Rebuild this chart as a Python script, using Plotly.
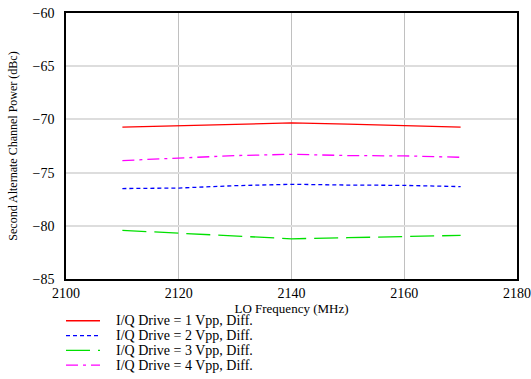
import plotly.graph_objects as go

freq = [2110, 2120, 2130, 2140, 2150, 2160, 2170]
drive1 = [-70.73, -70.6, -70.45, -70.33, -70.45, -70.58, -70.73]
drive2 = [-76.5, -76.45, -76.23, -76.1, -76.17, -76.2, -76.32]
drive3 = [-80.43, -80.68, -80.93, -81.22, -81.12, -81.0, -80.9]
drive4 = [-73.87, -73.65, -73.4, -73.28, -73.4, -73.43, -73.56]
names = ["I/Q Drive = 1 Vpp, Diff.", "I/Q Drive = 2 Vpp, Diff.",
         "I/Q Drive = 3 Vpp, Diff.", "I/Q Drive = 4 Vpp, Diff."]
colors = ["#ff0000", "#0000ff", "#00e000", "#ff00ff"]
dashes = ["solid", "4px,3px", "24px,8px", "12px,5px,3px,5px"]
x_ticks = [2100, 2120, 2140, 2160, 2180]
y_ticks = [-85, -80, -75, -70, -65, -60]

SERIF = "Liberation Serif"

fig = go.Figure()
for ys, n, c, d in zip([drive1, drive2, drive3, drive4], names, colors, dashes):
    fig.add_trace(go.Scatter(x=freq, y=ys, mode="lines", name=n, showlegend=False,
                             line=dict(color=c, width=1.3, dash=d)))

# legend drawn below the plot (compact row spacing as in the reference)
row_y0, row_step = -0.157, 0.0555
for i, (n, c, d) in enumerate(zip(names, colors, dashes)):
    yy = row_y0 - i * row_step
    fig.add_shape(type="line", xref="paper", yref="paper",
                  x0=0.0, x1=0.0754, y0=yy, y1=yy,
                  line=dict(color=c, width=1.3, dash=d))
    fig.add_annotation(xref="paper", yref="paper", x=0.1064, y=yy,
                       xanchor="left", yanchor="middle", showarrow=False,
                       text=n, font=dict(family=SERIF, size=14, color="black"))

fig.update_layout(
    width=531, height=379,
    margin=dict(l=66, r=14, t=13, b=100, autoexpand=False),
    paper_bgcolor="white", plot_bgcolor="white",
    font=dict(family=SERIF, size=13, color="black"),
    showlegend=False,
)
fig.update_xaxes(range=[2100, 2180], tickvals=x_ticks,
                 showgrid=True, gridcolor="#c0c0c0", gridwidth=1,
                 showline=True, linecolor="black", linewidth=1.5, mirror=True,
                 ticks="", zeroline=False, automargin=False, ticklabeloverflow="allow",
                 tickfont=dict(family=SERIF, size=14),
                 title=dict(text="LO Frequency (MHz)", font=dict(family=SERIF, size=13), standoff=2))
fig.update_yaxes(range=[-85, -60], tickvals=y_ticks,
                 showgrid=True, gridcolor="#dddddd", gridwidth=2,
                 showline=True, linecolor="black", linewidth=1.5, mirror=True,
                 ticks="", zeroline=False, automargin=False, ticklabelstandoff=7,
                 ticklabeloverflow="allow",
                 tickfont=dict(family=SERIF, size=14),
                 title=dict(text="Second Alternate Channel Power (dBc)",
                            font=dict(family=SERIF, size=12), standoff=12))
fig.write_html("out.html", config={"displayModeBar": False},
               post_script="document.body.style.margin='0';document.body.style.overflow='hidden';")
